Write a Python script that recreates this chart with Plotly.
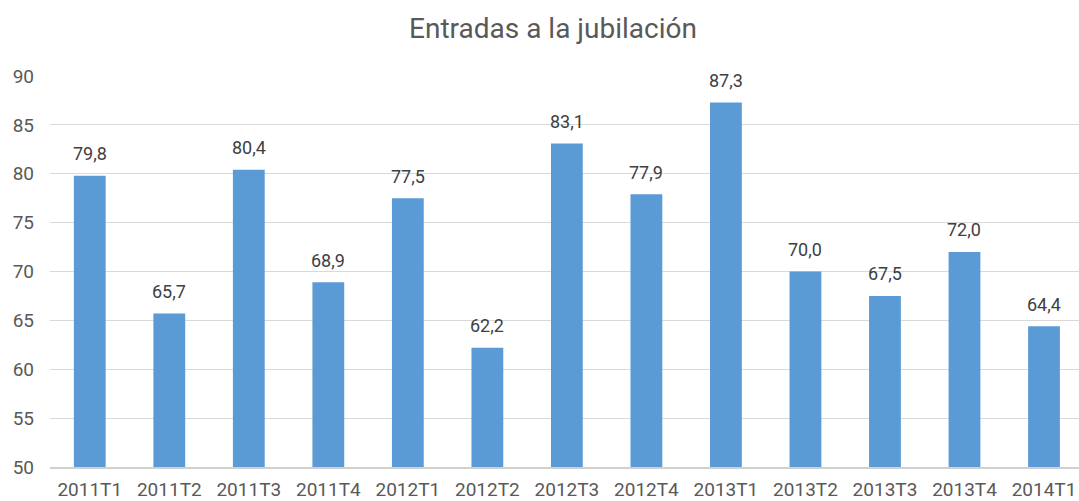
import plotly.graph_objects as go

# Quarterly entries into retirement
trimestres = ["2011T1", "2011T2", "2011T3", "2011T4", "2012T1", "2012T2", "2012T3",
              "2012T4", "2013T1", "2013T2", "2013T3", "2013T4", "2014T1"]
entradas = [79.8, 65.7, 80.4, 68.9, 77.5, 62.2, 83.1, 77.9, 87.3, 70.0, 67.5, 72.0, 64.4]
y_ticks = [50, 55, 60, 65, 70, 75, 80, 85, 90]

FONT = "Roboto"
TEXT_GREY = "#595959"

fig = go.Figure(
    go.Bar(
        x=trimestres,
        y=entradas,
        marker=dict(color="#5b9bd5", line=dict(width=0)),
        width=0.4,
        hoverinfo="x+y",
    )
)

# value labels floating above each bar
for cat, val in zip(trimestres, entradas):
    fig.add_annotation(
        x=cat,
        y=val,
        text=f"{val:.1f}".replace(".", ","),
        showarrow=False,
        xanchor="center",
        yanchor="middle",
        yshift=22,
        font=dict(family=FONT, size=18, color="#404040"),
    )

fig.update_layout(
    width=1079,
    height=501,
    margin=dict(l=50, r=0, t=76, b=34),
    paper_bgcolor="white",
    plot_bgcolor="white",
    separators=",.",
    showlegend=False,
    title=dict(
        text="Entradas a la jubilación",
        x=553 / 1079,
        xanchor="center",
        y=1 - 28 / 501,
        yanchor="middle",
        font=dict(family=FONT, size=28, color=TEXT_GREY),
    ),
    xaxis=dict(
        type="category",
        range=[-0.5, 12.44],
        showgrid=False,
        showline=True,
        linecolor="#d0d0d0",
        linewidth=2,
        ticks="",
        tickfont=dict(family=FONT, size=19, color=TEXT_GREY),
        ticklabelstandoff=4,
    ),
    yaxis=dict(
        range=[50, 90],
        tickvals=y_ticks,
        showgrid=True,
        gridcolor="#d9d9d9",
        gridwidth=1,
        zeroline=False,
        showline=False,
        ticks="",
        tickfont=dict(family=FONT, size=19, color=TEXT_GREY),
        ticklabelstandoff=15,
    ),
)

fig.write_html("out.html")
